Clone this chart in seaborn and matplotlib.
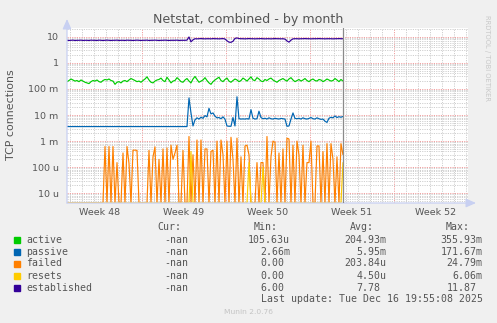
import numpy as np
import pandas as pd
import matplotlib
matplotlib.use("Agg")
import matplotlib.pyplot as plt
import matplotlib.transforms as mtransforms
from matplotlib.patches import Rectangle
from matplotlib.ticker import FixedLocator, NullFormatter
import seaborn as sns

# ---------------- data ----------------
sample_hours = 4  # one sample every 4 hours
established = [
    7.3,7.2,7.3,7.4,7.2,7.3,7.3,7.4,7.2,7.3,
    7.3,7.2,7.4,7.3,7.3,7.2,7.4,7.3,7.2,7.3,
    7.4,7.3,7.2,7.3,7.3,7.4,7.2,7.3,7.3,7.2,
    7.4,7.3,7.3,7.2,7.3,7.4,7.3,7.2,7.3,7.3,
    7.4,7.2,7.3,7.3,7.4,7.3,7.2,7.3,7.3,7.4,
    7.3,7.2,7.3,7.3,7.3,7.4,7.2,7.3,7.3,7.3,
    7.4,9.8,6.4,7.6,8.4,8.3,8.4,8.5,8.4,8.3,
    8.4,8.4,8.3,8.5,8.4,8.4,8.3,8.4,8.5,8.2,
    7.0,6.2,6.1,6.7,8.6,9.0,8.5,8.4,8.4,8.3,
    8.4,8.5,8.4,8.4,8.3,8.4,8.4,8.5,8.4,8.3,
    8.4,8.4,8.3,8.4,8.5,8.4,8.4,8.3,8.4,8.1,
    6.9,6.2,7.4,8.3,8.4,8.4,8.3,8.4,8.4,8.5,
    8.4,8.4,8.3,8.4,8.4,8.4,8.5,8.4,8.4,8.3,
    8.4,8.4,8.4,8.3,8.4,8.4,8.5,8.4,8.4,
]
active = [
    0.19,0.21,0.24,0.22,0.20,0.21,0.19,0.22,0.20,0.18,
    0.17,0.16,0.19,0.21,0.20,0.22,0.19,0.18,0.21,0.23,
    0.22,0.24,0.21,0.20,0.15,0.18,0.19,0.17,0.20,0.21,
    0.19,0.22,0.25,0.23,0.21,0.19,0.20,0.18,0.21,0.24,
    0.29,0.22,0.18,0.17,0.20,0.22,0.23,0.26,0.21,0.19,
    0.28,0.22,0.17,0.20,0.21,0.27,0.23,0.19,0.18,0.22,
    0.25,0.20,0.17,0.24,0.30,0.23,0.18,0.20,0.22,0.27,
    0.21,0.17,0.15,0.19,0.22,0.25,0.28,0.21,0.19,0.23,
    0.26,0.20,0.18,0.21,0.24,0.22,0.19,0.21,0.26,0.23,
    0.20,0.24,0.29,0.22,0.21,0.27,0.24,0.20,0.19,0.23,
    0.21,0.24,0.26,0.22,0.20,0.18,0.21,0.23,0.25,0.22,
    0.20,0.24,0.27,0.22,0.19,0.21,0.23,0.20,0.22,0.25,
    0.21,0.19,0.22,0.24,0.21,0.20,0.23,0.22,0.19,0.21,
    0.24,0.22,0.20,0.21,0.25,0.22,0.19,0.23,0.20,
]
passive = [
    0.0036,0.0036,0.0036,0.0036,0.0036,0.0036,0.0036,0.0036,0.0036,0.0036,
    0.0036,0.0036,0.0036,0.0036,0.0036,0.0036,0.0036,0.0036,0.0036,0.0036,
    0.0036,0.0036,0.0036,0.0036,0.0036,0.0036,0.0036,0.0036,0.0036,0.0036,
    0.0036,0.0036,0.0036,0.0036,0.0036,0.0036,0.0036,0.0036,0.0036,0.0036,
    0.0036,0.0036,0.0036,0.0036,0.0036,0.0036,0.0036,0.0036,0.0036,0.0036,
    0.0036,0.0036,0.0036,0.0036,0.0036,0.0036,0.0036,0.0036,0.0036,0.0036,
    0.0036,0.045,0.012,0.0038,0.0065,0.0078,0.0070,0.0082,0.0075,0.0095,
    0.0085,0.018,0.011,0.012,0.0090,0.0078,0.0080,0.0072,0.0085,0.0070,
    0.0038,0.0037,0.0037,0.0080,0.0038,0.050,0.0072,0.0070,0.0071,0.0070,
    0.0072,0.0070,0.0160,0.0075,0.0070,0.0072,0.0140,0.0080,0.0072,0.0075,
    0.0070,0.0078,0.0072,0.0070,0.0075,0.0072,0.0070,0.0074,0.0072,0.0070,
    0.0037,0.0038,0.0070,0.0120,0.0074,0.0072,0.0075,0.0070,0.0078,0.0072,
    0.0070,0.0074,0.0080,0.0072,0.0070,0.0078,0.0072,0.0068,0.0070,0.0058,
    0.0052,0.0075,0.0082,0.0078,0.0092,0.0080,0.0086,0.0082,0.0088,
]
failed = [
    0,0,0,0,0,0,0,0,0,0,
    0,0,0,0,0,0,0,0,0,0.00062,
    0,0.00062,0,0.00062,0,0.00015,0,0,0.00035,0,
    0.00062,0.00014,0,0.00045,0.00045,0.00044,0,0,0,0,
    0,0.00044,0,0.00025,0.0006,0,0.0002,0,0.0005,0,
    0.00055,0,0.0007,0.0002,0.00035,0.0007,0,0,0.00044,0,
    0,0.0015,0,0.0003,0,0.0011,0,0.0011,0,0.0005,
    0.0005,0,0.0004,0.00045,0,0.0010,0,0.0011,0.0003,0,
    0.0010,0,0.0014,0.0002,0,0.0013,0,0.00025,0,0.00065,
    0.0007,0.0003,0,0,0,0.00015,0,0.00015,0.00015,0,
    0.0015,0,0.00025,0.0010,0.0009,0,0.00035,0,0.0005,0,
    0.0013,0.0012,0,0.0007,0,0.0010,0.0003,0,0.0007,0,
    0.00015,0.00015,0.0010,0,0,0.00065,0.00065,0,0.0004,0,
    0.0008,0,0.0008,0.0002,0,0.00025,0,0.0008,0.0003,
]
resets = [0.0] * 139
resets_events = {62: 0.0004, 91: 0.00015, 98: 0.0001, 138: 0.00015}
for k, v in resets_events.items():
    resets[k] = v

series_names = ["active", "passive", "failed", "resets", "established"]
series_values = [active, passive, failed, resets, established]
series_colors = ["#00CC00", "#0066B3", "#FF8000", "#FFCC00", "#330099"]
cur_vals = ["-nan", "-nan", "-nan", "-nan", "-nan"]
min_vals = ["105.63u", "2.66m", "0.00", "0.00", "6.00"]
avg_vals = ["204.93m", "5.95m", "203.84u", "4.50u", "7.78"]
max_vals = ["355.93m", "171.67m", "24.79m", "6.06m", "11.87"]

ytick_vals = [1e-5, 1e-4, 1e-3, 1e-2, 1e-1, 1, 10]
ytick_labels = ["10 u", "100 u", "1 m", "10 m", "100 m", "1", "10"]
week_labels = ["Week 48", "Week 49", "Week 50", "Week 51", "Week 52"]
week_start_days = [6.25, 13.25, 20.25, 27.25]   # days since chart start
week_label_days = [2.75, 9.75, 16.75, 23.75, 30.75]
x_range_days = 33.42
title = "Netstat, combined - by month"
ylabel = "TCP connections"
last_update = "Last update: Tue Dec 16 19:55:08 2025"

Y_MIN, Y_MAX = 10 ** -5.373, 10 ** 1.335

days = np.arange(len(established)) * sample_hours / 24.0
df = pd.DataFrame({"days": days})
for n, v in zip(series_names, series_values):
    # like rrdtool, values at/below the log floor are drawn on the bottom edge
    df[n] = np.maximum(np.asarray(v, dtype=float), Y_MIN)

# ---------------- figure ----------------
sns.set_theme(style="white")
plt.rcParams["font.family"] = ["DejaVu Sans"]
W, H = 497, 323
fig = plt.figure(figsize=(W / 100, H / 100), dpi=100, facecolor="#F0F0F0")
L, R, T, B = 67, 468, 28, 203
ax = fig.add_axes([L / W, 1 - B / H, (R - L) / W, (B - T) / H])
ax.set_facecolor("white")

for n, c in zip(series_names, series_colors):
    sns.lineplot(data=df, x="days", y=n, ax=ax, color=c, lw=0.85,
                 estimator=None, legend=False, zorder=3)

ax.set_yscale("log", nonpositive="clip")
ax.set_ylim(Y_MIN, Y_MAX)
ax.set_xlim(0, x_range_days)
ax.set_xlabel("")
ax.set_ylabel("")

# y ticks and grid
ax.yaxis.set_major_locator(FixedLocator(ytick_vals))
ax.set_yticklabels(ytick_labels)
minor = [m * d for d in ytick_vals[:-1] + [10] for m in range(2, 10)]
minor = [v for v in minor if v < Y_MAX] + [m * 1e-6 for m in range(5, 10)]
ax.yaxis.set_minor_locator(FixedLocator(minor))
ax.yaxis.set_minor_formatter(NullFormatter())

# x ticks and grid
ax.xaxis.set_major_locator(FixedLocator(week_start_days))
ax.xaxis.set_minor_locator(FixedLocator([0.25 + k for k in range(34)]))
ax.xaxis.set_major_formatter(NullFormatter())
ax.xaxis.set_minor_formatter(NullFormatter())

dash = (0, (1.2, 1.2))
ax.grid(which="minor", axis="both", color="#CFCFCF", ls=dash, lw=0.7, zorder=1)
ax.grid(which="major", axis="both", color="#F2A0A0", ls=dash, lw=0.7, zorder=1)
ax.set_axisbelow(True)

ax.tick_params(axis="y", which="major", length=2, width=0.7, color="#BBBBBB",
               labelsize=6.8, labelcolor="#555555", pad=4)
ax.tick_params(axis="y", which="minor", length=1, width=0.6, color="#CCCCCC")
ax.tick_params(axis="x", which="both", length=0)
for s in ax.spines.values():
    s.set_visible(False)

# week labels
trans = mtransforms.blended_transform_factory(ax.transData, ax.transAxes)
for d, lab in zip(week_label_days, week_labels):
    ax.text(d, -(212.7 - B) / (B - T), lab, transform=trans, ha="center",
            va="center", fontsize=6.8, color="#555555")

# end-of-data line
ax.axvline(days[-1], color="#8A8A8A", lw=0.9, zorder=4)

# axis arrows
arrow_c = "#C8D0F2"
ax.annotate("", xy=(0, (B - 19) / (B - T)), xytext=(0, 0), xycoords="axes fraction",
            arrowprops=dict(arrowstyle="-|>,head_length=0.5,head_width=0.22",
                            color=arrow_c, lw=0.9, shrinkA=0, shrinkB=0))
ax.annotate("", xy=((476 - L) / (R - L), 0), xytext=(0, 0), xycoords="axes fraction",
            arrowprops=dict(arrowstyle="-|>,head_length=0.5,head_width=0.22",
                            color=arrow_c, lw=0.9, shrinkA=0, shrinkB=0))

def fx(px):
    return px / W

def fy(py):
    return 1 - py / H

fig.text(fx(248), fy(19), title, ha="center", va="center", fontsize=9.1, color="#555555")
fig.text(fx(11), fy(115), ylabel, ha="center", va="center", rotation=90,
         fontsize=7.9, color="#555555")
fig.text(fx(487), fy(58), "RRDTOOL / TOBI OETIKER", ha="center", va="center",
         rotation=270, fontsize=4.85, color="#C8C8C8")

# legend table
mono = dict(family="DejaVu Sans Mono", fontsize=7.1, color="#555555", va="center")
cw = 5.95
for txt, xr in zip(["Cur:", "Min:", "Avg:", "Max:"], [181.7, 277.7, 374, 470]):
    fig.text(fx(xr), fy(227), txt, ha="right", **mono)
row_y = [239.7, 251.7, 263.5, 275.7, 287.7]

def right_edge(s, xr):
    return xr if s[-1].isalpha() else xr - cw

for i, n in enumerate(series_names):
    y = row_y[i]
    fig.add_artist(Rectangle((fx(14), fy(y + 3)), 6 / W, 6 / H,
                             transform=fig.transFigure, color=series_colors[i]))
    fig.text(fx(26), fy(y), n, ha="left", **mono)
    fig.text(fx(188), fy(y), cur_vals[i], ha="right", **mono)
    fig.text(fx(right_edge(min_vals[i], 290)), fy(y), min_vals[i], ha="right", **mono)
    fig.text(fx(right_edge(avg_vals[i], 386.7)), fy(y), avg_vals[i], ha="right", **mono)
    fig.text(fx(right_edge(max_vals[i], 482.7)), fy(y), max_vals[i], ha="right", **mono)

fig.text(fx(482.7), fy(299.3), last_update, ha="right", **mono)
fig.text(fx(248), fy(312), "Munin 2.0.76", ha="center", va="center",
         fontsize=5.4, color="#C4C4C4")

fig.savefig("out.png", dpi=100, facecolor=fig.get_facecolor())
